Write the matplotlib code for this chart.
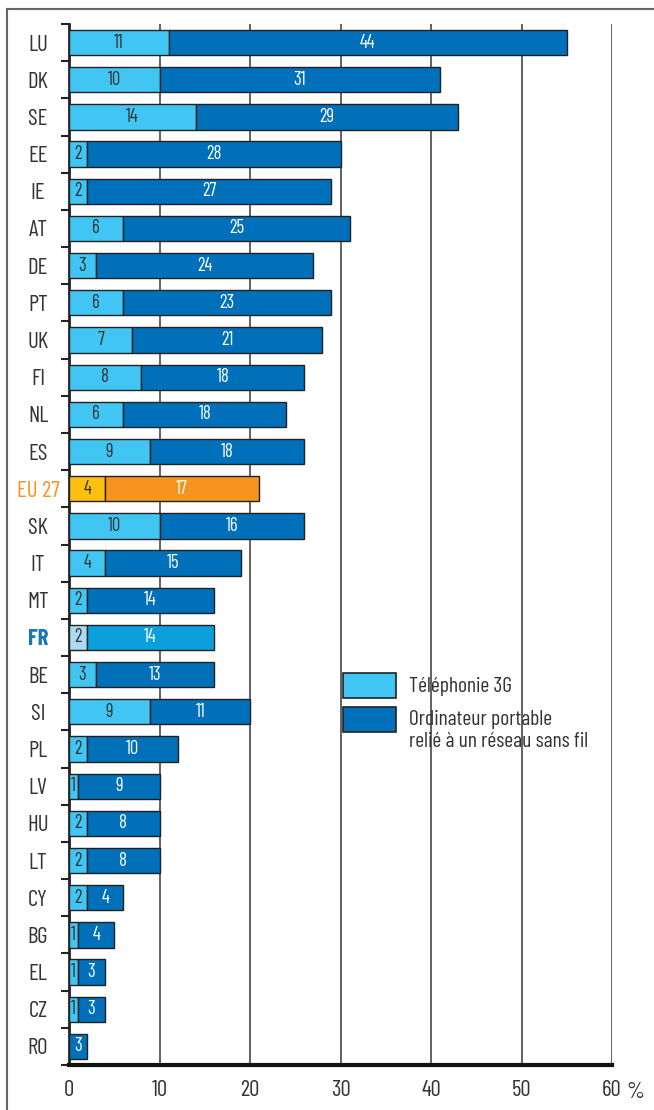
import matplotlib
matplotlib.use("Agg")
import matplotlib.pyplot as plt
from matplotlib import font_manager as fm
from matplotlib.patches import Rectangle
from matplotlib.lines import Line2D
from matplotlib.transforms import offset_copy

available = {f.name for f in fm.fontManager.ttflist}
candidates = ["Barlow Condensed", "Roboto Condensed", "Archivo Narrow", "PT Sans Narrow",
              "Liberation Sans Narrow", "Fira Sans Condensed", "IBM Plex Sans Condensed"]
chosen = next((c for c in candidates if c in available), "DejaVu Sans")
plt.rcParams['font.family'] = [chosen, 'DejaVu Sans']
plt.rcParams['font.weight'] = "normal"

countries = ["LU", "DK", "SE", "EE", "IE", "AT", "DE", "PT", "UK", "FI", "NL", "ES",
             "EU 27", "SK", "IT", "MT", "FR", "BE", "SI", "PL", "LV", "HU", "LT",
             "CY", "BG", "EL", "CZ", "RO"]
# Téléphonie 3G (%)
g3_values = [11, 10, 14, 2, 2, 6, 3, 6, 7, 8, 6, 9, 4, 10, 4, 2, 2, 3, 9, 2, 1, 2, 2, 2, 1, 1, 1, 0]
g3_labels = ["11", "10", "14", "2", "2", "6", "3", "6", "7", "8", "6", "9", "4", "10", "4",
             "2", "2", "3", "9", "2", "1", "2", "2", "2", "1", "1", "1", ""]
# Ordinateur portable relié à un réseau sans fil (%) - bar lengths as drawn
wifi_values = [44, 31, 29, 28, 27, 25, 24, 23, 21, 18, 18, 17, 17, 16, 15, 14, 14, 13, 11,
               10, 9, 8, 8, 4, 4, 3, 3, 2]
wifi_labels = ["44", "31", "29", "28", "27", "25", "24", "23", "21", "18", "18", "18", "17",
               "16", "15", "14", "14", "13", "11", "10", "9", "8", "8", "4", "4", "3", "3", "3"]
x_ticks = [0, 10, 20, 30, 40, 50, 60]
x_tick_labels = ["0", "10", "20", "30", "40", "50", "60"]
legend_labels = ["Téléphonie 3G", "Ordinateur portable\nrelié à un réseau sans fil"]

LIGHT = "#41C5F2"
DARK = "#0070BA"
EU_LIGHT = "#FDC010"
EU_DARK = "#F7941D"
FR_LIGHT = "#ABDAF2"
FR_DARK = "#0BA0DC"
TEXT = "#333333"

W, H = 654, 1110
fig = plt.figure(figsize=(W / 100, H / 100), dpi=100)
ax = fig.add_axes([69 / W, 45 / H, (612 - 69) / W, (1065 - 24) / H])

ypos = list(range(len(countries)))
light_colors, dark_colors = [], []
for c in countries:
    if c == "EU 27":
        light_colors.append(EU_LIGHT); dark_colors.append(EU_DARK)
    elif c == "FR":
        light_colors.append(FR_LIGHT); dark_colors.append(FR_DARK)
    else:
        light_colors.append(LIGHT); dark_colors.append(DARK)

bh = 0.68
ax.barh(ypos, g3_values, height=bh, color=light_colors, edgecolor="#222222",
        linewidth=1.0, zorder=3)
ax.barh(ypos, wifi_values, left=g3_values, height=bh, color=dark_colors,
        edgecolor="#222222", linewidth=1.0, zorder=3)

for i in ypos:
    if g3_labels[i]:
        ax.text(g3_values[i] / 2, i, g3_labels[i], ha="center", va="center",
                fontsize=13.5, color=TEXT, zorder=4)
    ax.text(g3_values[i] + wifi_values[i] / 2, i, wifi_labels[i], ha="center",
            va="center", fontsize=13.5, color="white", zorder=4)

ax.set_xlim(0, 60)
ax.set_ylim(len(countries) - 0.5, -0.5)

ax.set_xticks(x_ticks)
ax.set_xticklabels(x_tick_labels, fontsize=16.5, color=TEXT)
ax.tick_params(axis="x", length=0, pad=11)
ax.text(60, 0, "%", transform=offset_copy(ax.get_xaxis_transform(), fig=fig, x=14, y=-33, units="dots"),
        fontsize=16.5, color=TEXT, ha="left", va="baseline")

ax.set_yticks(ypos)
ax.set_yticklabels(countries, fontsize=16.5, color=TEXT)
for lab in ax.get_yticklabels():
    lab.set_horizontalalignment("center")
    if lab.get_text() == "EU 27":
        lab.set_color(EU_DARK)
    elif lab.get_text() == "FR":
        lab.set_color("#1A75BB")
        lab.set_fontweight("bold")
ax.tick_params(axis="y", which="major", length=0, pad=22.3)
ax.set_yticks([i - 0.5 for i in range(len(countries) + 1)], minor=True)
ax.tick_params(axis="y", which="minor", length=6, width=1.5, color="#222222", direction="out")

ax.grid(axis="x", color="#555555", linewidth=1.3, zorder=0)
ax.set_axisbelow(True)
for s in ["top", "right"]:
    ax.spines[s].set_visible(False)
ax.spines["left"].set_linewidth(2)
ax.spines["left"].set_color("#222222")
ax.spines["bottom"].set_linewidth(3)
ax.spines["bottom"].set_color("#111111")

# legend
def px(x, y):
    return x / W, 1 - y / H

for (top, col) in [(673, LIGHT), (707, DARK)]:
    x0, y0 = px(343, top + 25)
    fig.add_artist(Rectangle((x0, y0), 53 / W, 25 / H, transform=fig.transFigure,
                             facecolor=col, edgecolor="#222222", linewidth=1.2, zorder=5))
fig.text(*px(409, 687), legend_labels[0], fontsize=15.5, color=TEXT, va="center", ha="left")
fig.text(*px(409, 710), legend_labels[1], fontsize=15.5, color=TEXT, va="top", ha="left",
         linespacing=1.2)

# outer frame
fig.add_artist(Line2D([7 / W, 7 / W], [0, 1 - 9 / H], transform=fig.transFigure,
                      color="#666666", linewidth=1.5))
fig.add_artist(Line2D([7 / W, 1], [1 - 9 / H, 1 - 9 / H], transform=fig.transFigure,
                      color="#666666", linewidth=1.5))

fig.savefig("out.png", dpi=100)
